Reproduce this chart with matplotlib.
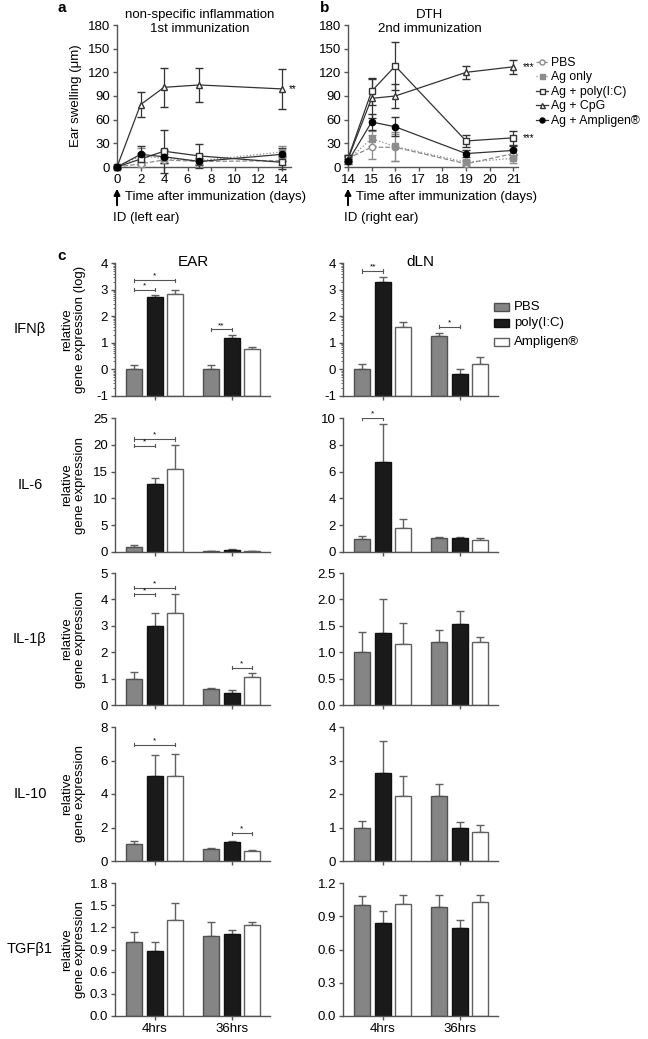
import numpy as np
import matplotlib
matplotlib.use("Agg")
import matplotlib.pyplot as plt
from matplotlib.patches import Rectangle

plt.rcParams['font.family'] = ['Liberation Sans', 'DejaVu Sans']
plt.rcParams['font.size'] = 9

# ---- panel a / b: ear swelling time course ----
days_a = [0, 2, 4, 7, 14]
pbs_a = [0, 4, 9, 7, 8]
pbs_a_err = [1, 4, 4, 3, 5]
ag_a = [0, 14, 11, 8, 19]
ag_a_err = [1, 10, 6, 8, 7]
poly_a = [0, 10, 20, 14, 6]
poly_a_err = [1, 8, 27, 15, 8]
cpg_a = [0, 79, 101, 104, 99]
cpg_a_err = [1, 16, 25, 22, 25]
amp_a = [0, 16, 13, 7, 16]
amp_a_err = [1, 10, 8, 5, 8]

days_b = [14, 15, 16, 19, 21]
pbs_b = [11, 25, 25, 4, 17]
pbs_b_err = [4, 15, 17, 3, 6]
ag_b = [9, 36, 26, 6, 11]
ag_b_err = [4, 10, 18, 3, 6]
poly_b = [11, 96, 128, 33, 37]
poly_b_err = [4, 17, 30, 8, 9]
cpg_b = [10, 87, 90, 120, 127]
cpg_b_err = [4, 25, 15, 8, 9]
amp_b = [7, 57, 51, 17, 21]
amp_b_err = [3, 10, 12, 4, 6]

series_names = ["PBS", "Ag only", "Ag + poly(I:C)", "Ag + CpG", "Ag + Ampligen®"]

# ---- panel c: relative gene expression, [4hrs, 36hrs] x [PBS, poly(I:C), Ampligen] ----
genes = ["IFNβ", "IL-6", "IL-1β", "IL-10", "TGFβ1"]
groups = ["4hrs", "36hrs"]
treatments = ["PBS", "poly(I:C)", "Ampligen®"]

ifnb_ear = [[0, 2.72, 2.82], [0, 1.18, 0.78]]
ifnb_ear_err = [[0.15, 0.08, 0.18], [0.15, 0.10, 0.06]]
ifnb_dln = [[0, 3.3, 1.6], [1.25, -0.18, 0.22]]
ifnb_dln_err = [[0.22, 0.18, 0.18], [0.12, 0.18, 0.24]]
il6_ear = [[1.0, 12.7, 15.5], [0.2, 0.4, 0.2]]
il6_ear_err = [[0.3, 1.1, 4.5], [0.05, 0.1, 0.05]]
il6_dln = [[1.0, 6.7, 1.8], [1.02, 1.02, 0.92]]
il6_dln_err = [[0.22, 2.85, 0.7], [0.1, 0.1, 0.13]]
il1b_ear = [[1.0, 3.0, 3.5], [0.62, 0.47, 1.05]]
il1b_ear_err = [[0.25, 0.5, 0.7], [0.04, 0.11, 0.15]]
il1b_dln = [[1.0, 1.37, 1.15], [1.19, 1.53, 1.2]]
il1b_dln_err = [[0.375, 0.63, 0.41], [0.235, 0.245, 0.09]]
il10_ear = [[1.0, 5.1, 5.05], [0.7, 1.15, 0.62]]
il10_ear_err = [[0.17, 1.25, 1.35], [0.05, 0.05, 0.05]]
il10_dln = [[1.0, 2.62, 1.93], [1.93, 0.98, 0.87]]
il10_dln_err = [[0.2, 0.95, 0.6], [0.37, 0.19, 0.2]]
tgf_ear = [[1.0, 0.88, 1.3], [1.08, 1.11, 1.23]]
tgf_ear_err = [[0.14, 0.12, 0.23], [0.19, 0.06, 0.04]]
tgf_dln = [[1.0, 0.84, 1.01], [0.98, 0.79, 1.03]]
tgf_dln_err = [[0.08, 0.11, 0.08], [0.11, 0.08, 0.06]]

ear_means = [ifnb_ear, il6_ear, il1b_ear, il10_ear, tgf_ear]
ear_errs = [ifnb_ear_err, il6_ear_err, il1b_ear_err, il10_ear_err, tgf_ear_err]
dln_means = [ifnb_dln, il6_dln, il1b_dln, il10_dln, tgf_dln]
dln_errs = [ifnb_dln_err, il6_dln_err, il1b_dln_err, il10_dln_err, tgf_dln_err]

ear_ylims = [(-1, 4), (0, 25), (0, 5), (0, 8), (0, 1.8)]
ear_ticks = [np.arange(-1, 5, 1), np.arange(0, 26, 5), np.arange(0, 6, 1),
             np.arange(0, 9, 2), np.arange(0, 1.81, 0.3)]
dln_ylims = [(-1, 4), (0, 10), (0, 2.5), (0, 4), (0, 1.2)]
dln_ticks = [np.arange(-1, 5, 1), np.arange(0, 11, 2), np.arange(0, 2.51, 0.5),
             np.arange(0, 5, 1), np.arange(0, 1.21, 0.3)]
tick_fmt = ["{:.0f}", "{:.0f}", ("{:.0f}", "{:.1f}"), "{:.0f}", "{:.1f}"]

# significance brackets: (row, column, group, bar i, bar j, y, label)
brackets = [
    (0, 0, 0, 0, 1, 3.0, "*"), (0, 0, 0, 0, 2, 3.35, "*"), (0, 0, 1, 0, 1, 1.5, "**"),
    (0, 1, 0, 0, 1, 3.7, "**"), (0, 1, 1, 0, 1, 1.6, "*"),
    (1, 0, 0, 0, 1, 19.8, "*"), (1, 0, 0, 0, 2, 21.1, "*"),
    (1, 1, 0, 0, 1, 10.0, "*"),
    (2, 0, 0, 0, 1, 4.19, "*"), (2, 0, 0, 0, 2, 4.44, "*"), (2, 0, 1, 1, 2, 1.41, "*"),
    (3, 0, 0, 0, 2, 6.95, "*"), (3, 0, 1, 1, 2, 1.65, "*"),
]

W, H = 648, 1039
fig = plt.figure(figsize=(W / 100, H / 100), dpi=100)


def add_ax(left, top, right, bottom):
    return fig.add_axes([left / W, 1 - bottom / H, (right - left) / W, (bottom - top) / H])


def style(ax):
    for s in ["top", "right"]:
        ax.spines[s].set_visible(False)
    for s in ["left", "bottom"]:
        ax.spines[s].set_color("#555555")
        ax.spines[s].set_linewidth(1.0)
    ax.tick_params(direction="out", length=3, width=1, color="#555555", labelsize=9.5, pad=2)


dark = "#333333"
light = "#8c8c8c"
line_styles = [
    dict(color=light, ls="--", marker="o", mfc="white", mec=light),
    dict(color=light, ls=":", marker="s", mfc=light, mec=light),
    dict(color=dark, ls="-", marker="s", mfc="white", mec=dark),
    dict(color=dark, ls="-", marker="^", mfc="white", mec=dark),
    dict(color=dark, ls="-", marker="o", mfc="black", mec="black"),
]

# ---- panel a ----
ax_a = add_ax(117, 25, 291, 167)
style(ax_a)
for y, e, st in zip([pbs_a, ag_a, poly_a, cpg_a, amp_a],
                    [pbs_a_err, ag_a_err, poly_a_err, cpg_a_err, amp_a_err], line_styles):
    ax_a.errorbar(days_a, y, yerr=e, capsize=3, elinewidth=0.9, lw=0.9, ms=4.5,
                  clip_on=False, zorder=3, **st)
ax_a.set_xlim(0, 14.8)
ax_a.set_ylim(0, 180)
ax_a.set_xticks(range(0, 15, 2))
ax_a.set_yticks(range(0, 181, 30))
ax_a.set_ylabel("Ear swelling (μm)", fontsize=9.5)
ax_a.yaxis.set_label_coords(-0.2, 0.5)
ax_a.text(14.6, cpg_a[-1], "**", fontsize=7, va="center", ha="left")
fig.text(200 / W, 1 - 22 / H, "non-specific inflammation\n1st immunization",
         ha="center", va="center", fontsize=9.5, linespacing=1.2)

# ---- panel b ----
ax_b = add_ax(348, 25, 518, 167)
style(ax_b)
lines_b = []
for y, e, st in zip([pbs_b, ag_b, poly_b, cpg_b, amp_b],
                    [pbs_b_err, ag_b_err, poly_b_err, cpg_b_err, amp_b_err], line_styles):
    h = ax_b.errorbar(days_b, y, yerr=e, capsize=3, elinewidth=0.9, lw=0.9, ms=4.5,
                      clip_on=False, zorder=3, **st)
    lines_b.append(h[0])
ax_b.set_xlim(14, 21.2)
ax_b.set_ylim(0, 180)
ax_b.set_xticks(range(14, 22))
ax_b.set_yticks(range(0, 181, 30))
ax_b.text(21.4, cpg_b[-1], "***", fontsize=7, va="center", ha="left")
ax_b.text(21.4, poly_b[-1], "***", fontsize=7, va="center", ha="left")
fig.text(430 / W, 1 - 22 / H, "DTH\n2nd immunization",
         ha="center", va="center", fontsize=9.5, linespacing=1.2)
ax_b.legend(lines_b, series_names, loc="upper left", bbox_to_anchor=(536 / W, 1 - 57 / H),
            bbox_transform=fig.transFigure, frameon=False, fontsize=8.8,
            handlelength=1.0, handletextpad=0.25, labelspacing=0.2,
            borderaxespad=0, borderpad=0, markerscale=0.8)

# arrows and notes under a / b
for x0, note in [(117, "ID (left ear)"), (348, "ID (right ear)")]:
    fig.add_artist(matplotlib.patches.FancyArrowPatch(
        (x0 / W, 1 - 208 / H), (x0 / W, 1 - 186 / H), transform=fig.transFigure,
        arrowstyle="-|>", mutation_scale=9, color="black", lw=1.4))
    fig.text((x0 + 8) / W, 1 - 197 / H, "Time after immunization (days)", fontsize=9.5,
             va="center", ha="left")
    fig.text((x0 - 4) / W, 1 - 218 / H, note, fontsize=9.5, va="center", ha="left")

fig.text(57 / W, 1 - 8 / H, "a", fontsize=11, fontweight="bold", va="center")
fig.text(320 / W, 1 - 8 / H, "b", fontsize=11, fontweight="bold", va="center")
fig.text(57 / W, 1 - 256 / H, "c", fontsize=11, fontweight="bold", va="center")

# ---- panel c ----
rows = [(263, 396), (418, 552), (573, 705), (727, 861), (883, 1016)]
cols = [(115, 270), (343, 498)]
fills = ["#858585", "#1a1a1a", "white"]
edges = ["#505050", "#111111", "#606060"]
offsets = [-0.267, 0, 0.267]
bw = 0.21

axes_c = {}
for r, (top, bot) in enumerate(rows):
    for c, (left, right) in enumerate(cols):
        ax = add_ax(left, top, right, bot)
        style(ax)
        axes_c[(r, c)] = ax
        means = ear_means[r] if c == 0 else dln_means[r]
        errs = ear_errs[r] if c == 0 else dln_errs[r]
        ylim = ear_ylims[r] if c == 0 else dln_ylims[r]
        ticks = ear_ticks[r] if c == 0 else dln_ticks[r]
        base = ylim[0]
        for g in range(2):
            for t in range(3):
                x = g + offsets[t]
                ax.bar(x, means[g][t] - base, bottom=base, width=bw, color=fills[t],
                       edgecolor=edges[t], linewidth=1.0, zorder=2)
                ax.errorbar(x, means[g][t], yerr=[[0], [errs[g][t]]], fmt="none",
                            ecolor="#606060", elinewidth=1.0, capsize=3, capthick=1.0, zorder=1)
        ax.set_xlim(-0.52, 1.5)
        ax.set_ylim(*ylim)
        ax.set_yticks(ticks)
        fmt = tick_fmt[r]
        if isinstance(fmt, tuple):
            fmt = fmt[c]
        ax.set_yticklabels([fmt.format(v) for v in ticks])
        ax.set_xticks([0, 1])
        if r == 4:
            ax.set_xticklabels(groups, fontsize=9.5)
        else:
            ax.set_xticklabels([])
        if r == 0:
            minor = [k + np.log10(m) for k in range(-1, 4) for m in range(2, 10)]
            ax.set_yticks(minor, minor=True)
            ax.tick_params(axis="y", which="minor", length=1.5, width=0.6, color="#555555")
        if c == 0:
            lab = "relative\ngene expression (log)" if r == 0 else "relative\ngene expression"
            ax.set_ylabel(lab, fontsize=9.5, linespacing=1.0)
            ax.yaxis.set_label_coords(-0.19, 0.5)
            fig.text(30 / W, 1 - (top + bot) / 2 / H, genes[r], fontsize=10.5,
                     ha="center", va="center")

for r, c, g, i, j, y, lab in brackets:
    ax = axes_c[(r, c)]
    lo, hi = ax.get_ylim()
    d = 0.012 * (hi - lo)
    x1, x2 = g + offsets[i], g + offsets[j]
    ax.plot([x1, x2], [y, y], color="#555555", lw=0.8)
    ax.plot([x1, x1], [y - d, y + d], color="#555555", lw=0.8)
    ax.plot([x2, x2], [y - d, y + d], color="#555555", lw=0.8)
    ax.text((x1 + x2) / 2, y + d * 0.3, lab, fontsize=6, ha="center", va="bottom")

fig.text(193 / W, 1 - 262 / H, "EAR", fontsize=11, ha="center", va="center")
fig.text(420 / W, 1 - 262 / H, "dLN", fontsize=11, ha="center", va="center")

# legend for panel c
for k, (name, fc, ec) in enumerate(zip(treatments, fills, edges)):
    yc = [307, 323, 342][k]
    fig.add_artist(Rectangle((494 / W, 1 - (yc + 4) / H), 15 / W, 8 / H,
                             transform=fig.transFigure, facecolor=fc, edgecolor=ec, lw=1.0))
    fig.text(514 / W, 1 - yc / H, name, fontsize=9.5, va="center", ha="left")

fig.savefig("out.png", dpi=100)
